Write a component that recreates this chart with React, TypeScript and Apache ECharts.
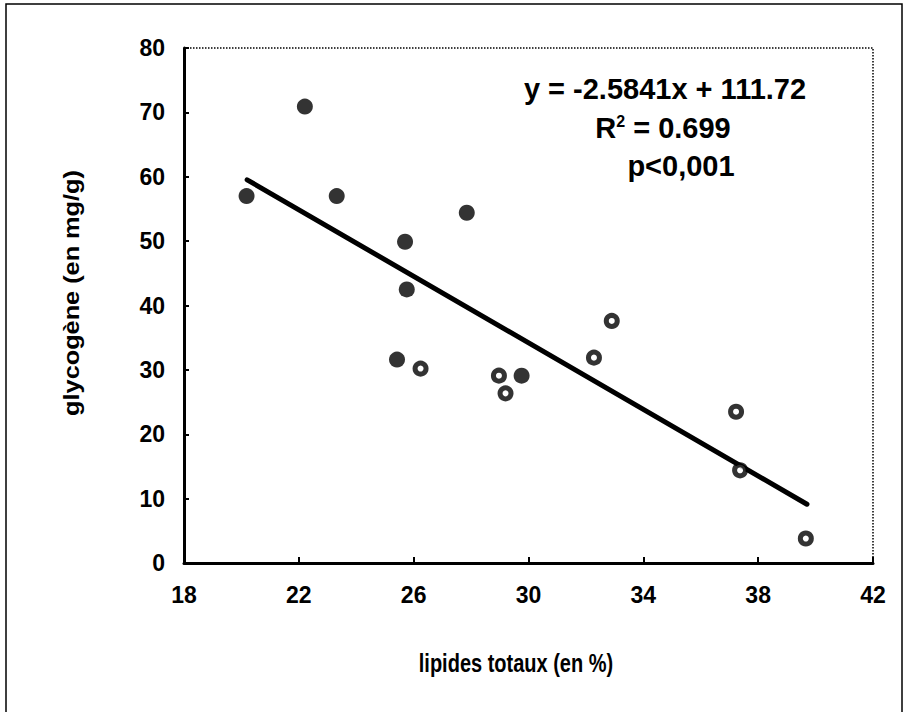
import React, { useEffect, useRef } from "react";
import * as echarts from "echarts";

// Data
const filledPoints: [number, number][] = [
  [20.18, 57.0],
  [22.21, 70.9],
  [23.32, 57.0],
  [25.7, 49.9],
  [25.76, 42.5],
  [25.42, 31.6],
  [27.85, 54.4],
  [29.76, 29.1],
];
const openPoints: [number, number][] = [
  [26.24, 30.2],
  [28.97, 29.1],
  [29.2, 26.35],
  [32.28, 31.9],
  [32.9, 37.6],
  [37.23, 23.5],
  [37.37, 14.4],
  [39.66, 3.8],
];
const slope = -2.5841;
const intercept = 111.72;
const trendX = [20.2, 39.7];
const xTicks = [18, 22, 26, 30, 34, 38, 42];
const yTicks = [0, 10, 20, 30, 40, 50, 60, 70, 80];
const eqLines = ["y = -2.5841x + 111.72", "R{sup|2} = 0.699", "p<0,001"];
const xTitle = "lipides totaux (en %)";
const yTitle = "glycogène (en mg/g)";

const FONT = "'Liberation Sans', Arial, Helvetica, sans-serif";

export default function App() {
  const ref = useRef<HTMLDivElement>(null);
  useEffect(() => {
    if (!ref.current) return;
    const chart = echarts.init(ref.current, undefined, { renderer: "svg" });
    const trend = trendX.map((x) => [x, slope * x + intercept]);
    chart.setOption({
      animation: false,
      backgroundColor: "#ffffff",
      grid: {
        left: 184,
        right: 33,
        top: 48,
        bottom: 149,
        show: true,
        borderColor: "#000",
        borderWidth: 1.5,
        borderType: "dotted",
        backgroundColor: "transparent",
      },
      xAxis: {
        type: "value",
        min: xTicks[0],
        max: xTicks[xTicks.length - 1],
        axisLine: { show: true, onZero: false, lineStyle: { color: "#000", width: 3 } },
        axisTick: { show: true, inside: true, length: 6, customValues: xTicks, lineStyle: { color: "#000", width: 2 } },
        axisLabel: {
          customValues: xTicks,
          color: "#000",
          fontFamily: FONT,
          fontWeight: "bold",
          fontSize: 23,
          margin: 20,
        },
        splitLine: { show: false },
      },
      yAxis: {
        type: "value",
        min: yTicks[0],
        max: yTicks[yTicks.length - 1],
        interval: 10,
        axisLine: { show: true, onZero: false, lineStyle: { color: "#000", width: 3 } },
        axisTick: { show: true, inside: true, length: 5, lineStyle: { color: "#000", width: 2 } },
        axisLabel: {
          color: "#000",
          fontFamily: FONT,
          fontWeight: "bold",
          fontSize: 23,
          margin: 19,
        },
        splitLine: { show: false },
      },
      graphic: [
        {
          type: "rect",
          shape: { x: 6, y: 4, width: 896, height: 740 },
          style: { fill: "none", stroke: "#000", lineWidth: 1.5 },
          silent: true,
        },
        {
          type: "text",
          x: 665,
          y: 89,
          style: { text: eqLines[0], font: `bold 29px ${FONT}`, fill: "#000", align: "center", verticalAlign: "middle" },
        },
        {
          type: "text",
          x: 663,
          y: 128,
          style: {
            text: eqLines[1],
            font: `bold 29px ${FONT}`,
            fill: "#000",
            align: "center",
            verticalAlign: "middle",
            rich: {
              sup: { fontSize: 16, fontWeight: "bold", fontFamily: FONT, verticalAlign: "top", padding: [0, 0, 12, 0] },
            },
          },
        },
        {
          type: "text",
          x: 681,
          y: 166,
          style: { text: eqLines[2], font: `bold 29px ${FONT}`, fill: "#000", align: "center", verticalAlign: "middle" },
        },
        {
          type: "text",
          x: 516,
          y: 663,
          scaleY: 1.3,
          style: { text: xTitle, font: `bold 20px ${FONT}`, fill: "#000", align: "center", verticalAlign: "middle" },
        },
        {
          type: "text",
          x: 72,
          y: 293,
          rotation: Math.PI / 2,
          scaleX: 1.15,
          style: { text: yTitle, font: `bold 22px ${FONT}`, fill: "#000", align: "center", verticalAlign: "middle" },
        },
      ],
      series: [
        {
          type: "line",
          data: trend,
          showSymbol: false,
          lineStyle: { color: "#000", width: 5, cap: "round" },
          z: 1,
        },
        {
          type: "scatter",
          data: filledPoints,
          symbol: "circle",
          symbolSize: 16,
          itemStyle: { color: "#000" },
          z: 3,
        },
        {
          type: "scatter",
          data: openPoints,
          symbol: "circle",
          symbolSize: 11,
          itemStyle: { color: "#fff", borderColor: "#000", borderWidth: 5 },
          z: 3,
        },
      ],
    });
    return () => chart.dispose();
  }, []);
  return (
    <div
      ref={ref}
      style={{ position: "fixed", left: 0, top: 0, width: 906, height: 712 }}
    />
  );
}
